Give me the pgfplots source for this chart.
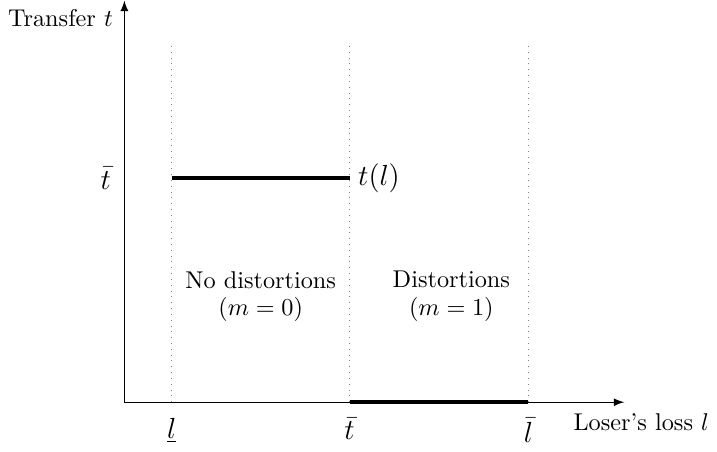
\documentclass[border=0pt]{standalone}
\usepackage{pgfplots}
\pgfplotsset{compat=1.18}
\begin{document}
\begin{tikzpicture}
\begin{axis}[width=206pt,height=165.5pt,scale only axis,
  xmin=0,xmax=506,ymin=0,ymax=407,
  axis x line=bottom, axis y line=left,
  axis line style={-latex, line width=0.5pt},
  xtick={48,228,409}, xticklabels={$\underline{l}$,$\bar{t}$,$\bar{l}$},
  ytick={227}, yticklabels={$\bar{t}$},
  major tick length=0pt,
  tick label style={font=\large},
  xticklabel style={yshift=-3pt},
  yticklabel style={xshift=-2pt},
  clip=false]
\addplot[dotted, gray, thin] coordinates {(48,0) (48,364)};
\addplot[dotted, gray, thin] coordinates {(228,0) (228,364)};
\addplot[dotted, gray, thin] coordinates {(409,0) (409,364)};
\addplot[line width=1.6pt] coordinates {(48,227) (228,227)};
\addplot[line width=1.6pt] coordinates {(228,0) (409,0)};
\node[anchor=west, font=\large] at (axis cs:228,227) {$t(l)$};
\node at (axis cs:138,124) {No distortions};
\node at (axis cs:138,94) {$(m=0)$};
\node at (axis cs:331,124) {Distortions};
\node at (axis cs:331,94) {$(m=1)$};
\node[anchor=east] at (axis cs:-3,389) {Transfer $t$};
\node[anchor=west] at (axis cs:446,-20) {Loser's loss $l$};
\end{axis}
\end{tikzpicture}
\end{document}
